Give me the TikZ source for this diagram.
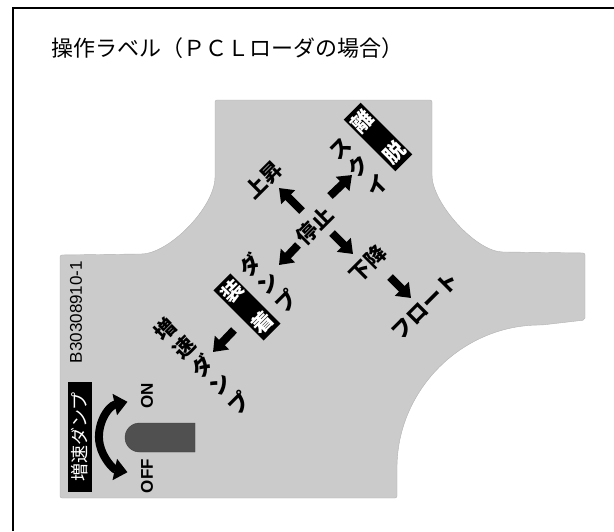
\documentclass[tikz,border=0pt]{standalone}
\usepackage{fontspec}
\setmainfont{Liberation Sans}
\newfontfamily\jpfont{Noto Sans CJK JP}
\usepackage{tikz}
\usetikzlibrary{arrows.meta}
\definecolor{plate}{RGB}{203,203,203}
\definecolor{lever}{RGB}{80,80,80}

\begin{document}
\begin{tikzpicture}[x=1pt, y=-1pt,
  lab/.style={font=\jpfont\bfseries\fontsize{21}{26}\selectfont, inner sep=0pt,
              align=center, rotate=45},
  tag/.style={lab, fill=black, text=white, inner xsep=1.5pt, inner ysep=4pt},
  blk/.style={line width=8pt, -{Triangle[width=19pt,length=13pt]}},
  turn/.style={line width=8pt, {Triangle[width=21pt,length=13pt]}-{Triangle[width=21pt,length=13pt]}},
  side/.style={font=\bfseries\fontsize{17}{17}\selectfont, inner sep=0pt, rotate=90}]
  \useasboundingbox (0,0) rectangle (614,531);
  \draw[line width=1.5pt] (13,531) -- (13,8) -- (614,8);
  \node (title) [anchor=west, inner sep=0pt, font=\jpfont\fontsize{22}{22}\selectfont]
    at (51,48) {操作ラベル（ＰＣＬローダの場合）};

  \filldraw[fill=plate, draw=black!30, rounded corners=2pt]
    (60,255) -- (139,254) .. controls (169,254) and (215,207) .. (215,175)
    -- (215,100) -- (432,100) -- (432,173)
    .. controls (432,203) and (476,252) .. (505,252)
    -- (585,253) -- (585,320) -- (542,325)
    arc[start angle=270, end angle=180, radius=145]
    -- (397,498) -- (60,498) -- cycle;

  \node (stop) [lab] at (315,226) {停止};
  \node (up) [lab] at (264,180) {上昇};
  \node (squeeze) [lab] at (359,167) {ス\\ク\\イ};
  \node (detach) [tag] at (378,137) {離\\[19pt]脱};
  \node (down) [lab] at (368,264) {下降};
  \node (float) [lab] at (425,306) {フロート};
  \node (dump) [lab] at (268,283) {ダ\\ン\\プ};
  \node (attach) [tag] at (247,307) {装\\[17pt]着};
  \node (fastdump) [lab] at (202,366) {増\\速\\ダ\\ン\\プ};

  \coordinate (nwA) at (302,211); \coordinate (nwB) at (279,188);
  \coordinate (neA) at (330,196); \coordinate (neB) at (352,175);
  \coordinate (seA) at (332,233); \coordinate (seB) at (353,254);
  \coordinate (flA) at (390,277); \coordinate (flB) at (411,298);
  \coordinate (swA) at (298,245); \coordinate (swB) at (279,265);
  \coordinate (fdA) at (234,330); \coordinate (fdB) at (213,352);
  \draw[blk] (nwA) -- (nwB);
  \draw[blk] (neA) -- (neB);
  \draw[blk] (seA) -- (seB);
  \draw[blk] (flA) -- (flB);
  \draw[blk] (swA) -- (swB);
  \draw[blk] (fdA) -- (fdB);

  \node (code) [inner sep=0pt, rotate=90, font=\fontsize{17}{17}\selectfont]
    at (76,312) {B30308910-1};
  \node (switch) [rotate=90, fill=black, text=white, inner sep=0pt,
    minimum width=110pt, minimum height=24pt,
    font=\jpfont\fontsize{18}{18}\selectfont] at (80,437) {増速ダンプ};
  \node (on) [side] at (147,396) {ON};
  \node (off) [side] at (147,476) {OFF};

  \coordinate (turnA) at (127.5,401.8);
  \coordinate (turnB) at (127.5,472.2);
  \draw[turn] (turnA) arc[start angle=258, end angle=102, radius=36];
  \filldraw[fill=lever, draw=black!75] (195,423) -- (139.5,423)
    arc[start angle=270, end angle=90, radius=14.5] -- (195,452) -- cycle;
\end{tikzpicture}
\end{document}
